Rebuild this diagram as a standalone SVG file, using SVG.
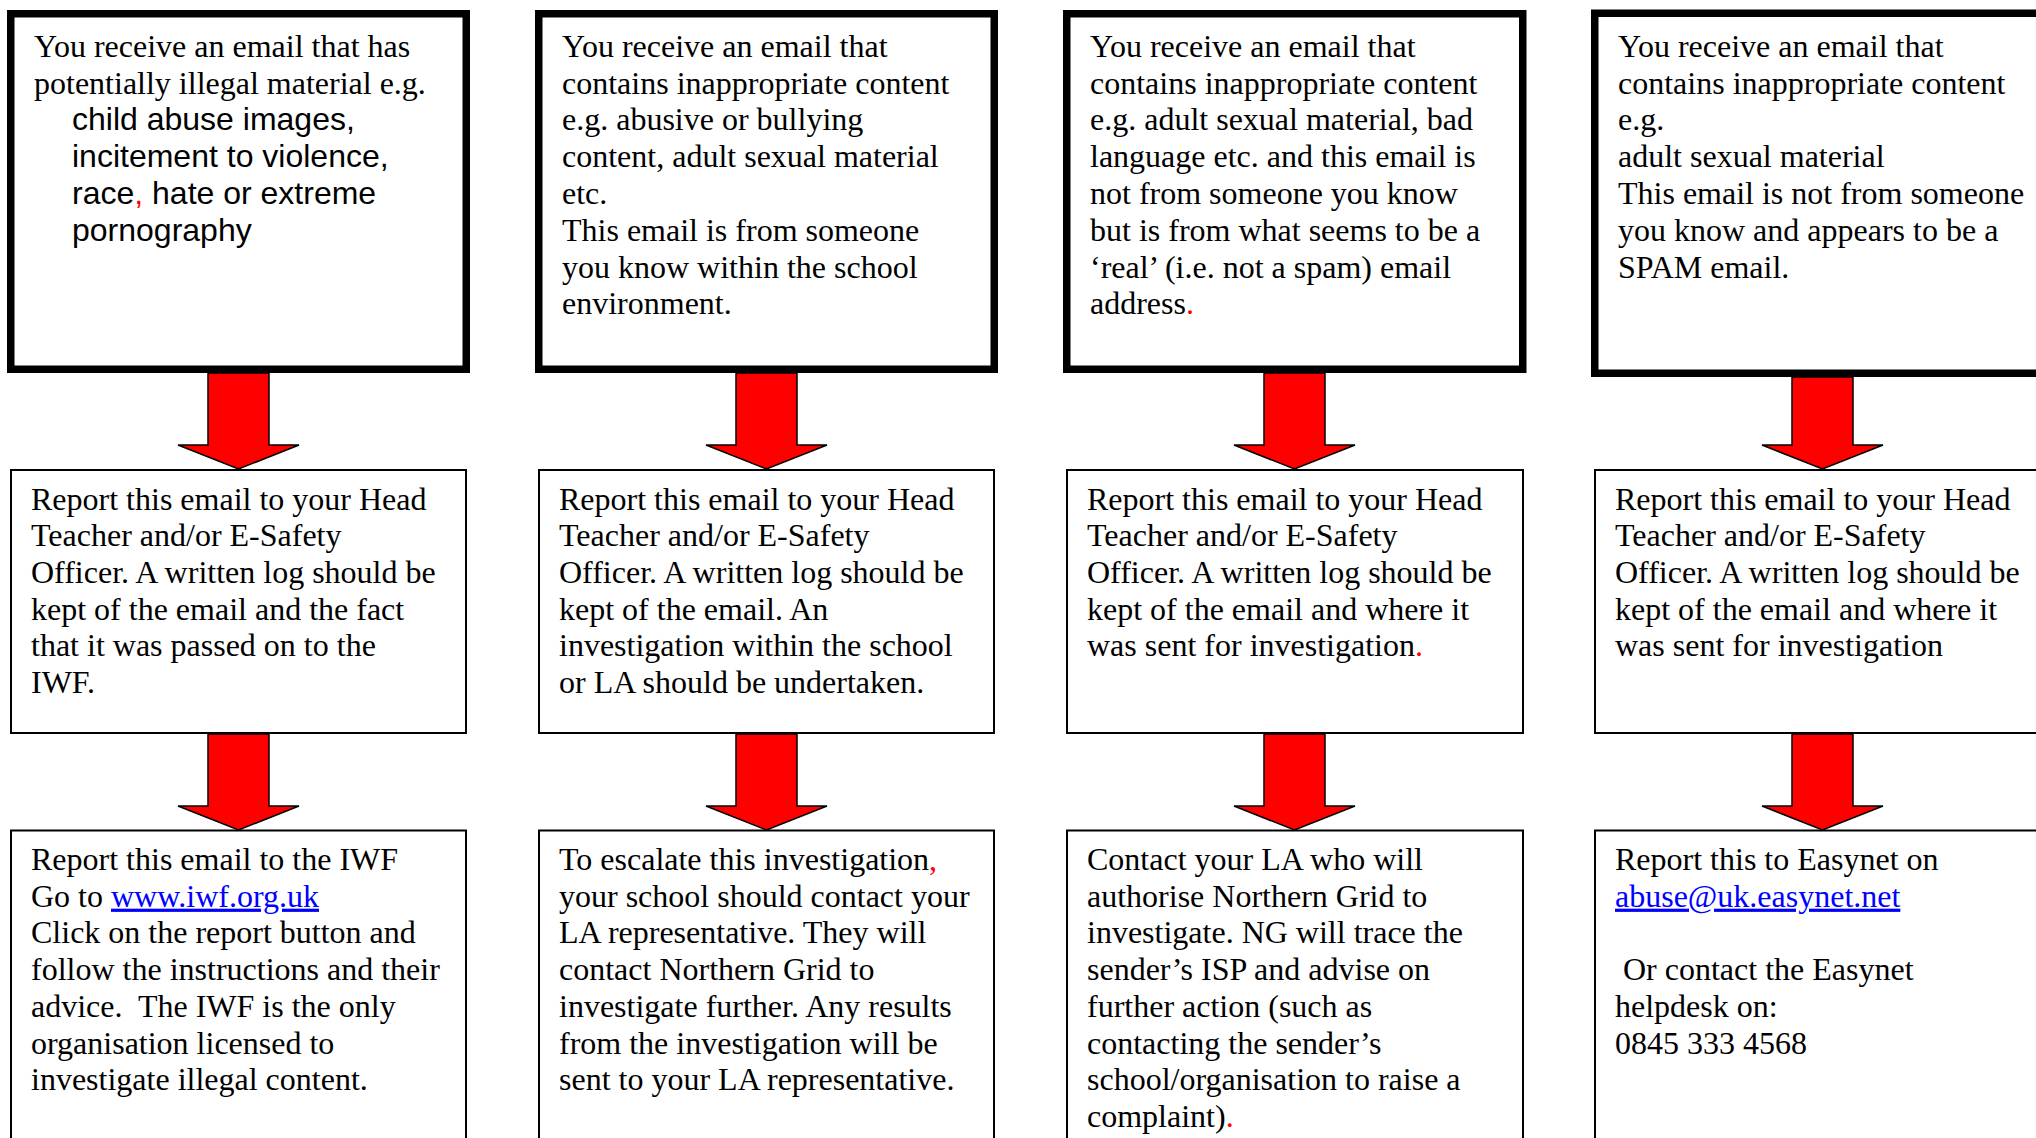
<svg xmlns="http://www.w3.org/2000/svg" width="2036" height="1138" viewBox="0 0 2036 1138">
<style>
.thick{fill:#fff;stroke:#000;stroke-width:7.5}
.thin{fill:#fff;stroke:#000;stroke-width:2}
.arrow{fill:#ff0000;stroke:#000;stroke-width:1.5;stroke-linejoin:miter}
text{font-family:"Liberation Serif","Times New Roman",serif;font-size:32px;fill:#000}
.sans{font-family:"Liberation Sans",Arial,sans-serif}
.red{fill:#ff0000}
.link{fill:#0000ff;text-decoration:underline}
</style>
<rect width="2036" height="1138" fill="#fff"/>
<g id="connectors">
<polygon class="arrow" points="208,373 269,373 269,445 299,445 238.5,469 178,445 208,445"/>
<polygon class="arrow" points="736,373 797,373 797,445 827,445 766.5,469 706,445 736,445"/>
<polygon class="arrow" points="1264,373 1325,373 1325,445 1355,445 1294.5,469 1234,445 1264,445"/>
<polygon class="arrow" points="1792,377 1853,377 1853,445 1883,445 1822.5,469 1762,445 1792,445"/>
<polygon class="arrow" points="208,734 269,734 269,806 299,806 238.5,830 178,806 208,806"/>
<polygon class="arrow" points="736,734 797,734 797,806 827,806 766.5,830 706,806 736,806"/>
<polygon class="arrow" points="1264,734 1325,734 1325,806 1355,806 1294.5,830 1234,806 1264,806"/>
<polygon class="arrow" points="1792,734 1853,734 1853,806 1883,806 1822.5,830 1762,806 1792,806"/>
</g>
<g id="top1">
<rect class="thick" x="10.75" y="13.75" width="455.5" height="355.5"/>
<text x="34" y="56.7">You receive an email that has</text>
<text x="34" y="93.5">potentially illegal material e.g.</text>
<text class="sans" x="72" y="130.3">child abuse images,</text>
<text class="sans" x="72" y="167.1">incitement to violence,</text>
<text class="sans" x="72" y="203.9">race<tspan class="red">,</tspan> hate or extreme</text>
<text class="sans" x="72" y="240.7">pornography</text>
</g>
<g id="top2">
<rect class="thick" x="538.75" y="13.75" width="455.5" height="355.5"/>
<text x="562" y="56.7">You receive an email that</text>
<text x="562" y="93.5">contains inappropriate content</text>
<text x="562" y="130.3">e.g. abusive or bullying</text>
<text x="562" y="167.1">content, adult sexual material</text>
<text x="562" y="203.9">etc.</text>
<text x="562" y="240.7">This email is from someone</text>
<text x="562" y="277.5">you know within the school</text>
<text x="562" y="314.3">environment.</text>
</g>
<g id="top3">
<rect class="thick" x="1066.75" y="13.75" width="456" height="355.5"/>
<text x="1090" y="56.7">You receive an email that</text>
<text x="1090" y="93.5">contains inappropriate content</text>
<text x="1090" y="130.3">e.g. adult sexual material, bad</text>
<text x="1090" y="167.1">language etc. and this email is</text>
<text x="1090" y="203.9">not from someone you know</text>
<text x="1090" y="240.7">but is from what seems to be a</text>
<text x="1090" y="277.5">‘real’ (i.e. not a spam) email</text>
<text x="1090" y="314.3">address<tspan class="red">.</tspan></text>
</g>
<g id="top4">
<rect class="thick" x="1594.75" y="13.25" width="500" height="360"/>
<text x="1618" y="56.7">You receive an email that</text>
<text x="1618" y="93.5">contains inappropriate content</text>
<text x="1618" y="130.3">e.g.</text>
<text x="1618" y="167.1">adult sexual material</text>
<text x="1618" y="203.9">This email is not from someone</text>
<text x="1618" y="240.7">you know and appears to be a</text>
<text x="1618" y="277.5">SPAM email.</text>
</g>
<g id="mid1">
<rect class="thin" x="11" y="470" width="455" height="263"/>
<text x="31" y="509.5">Report this email to your Head</text>
<text x="31" y="546.2">Teacher and/or E-Safety</text>
<text x="31" y="582.9">Officer. A written log should be</text>
<text x="31" y="619.6">kept of the email and the fact</text>
<text x="31" y="656.3">that it was passed on to the</text>
<text x="31" y="693">IWF.</text>
</g>
<g id="mid2">
<rect class="thin" x="539" y="470" width="455" height="263"/>
<text x="559" y="509.5">Report this email to your Head</text>
<text x="559" y="546.2">Teacher and/or E-Safety</text>
<text x="559" y="582.9">Officer. A written log should be</text>
<text x="559" y="619.6">kept of the email. An</text>
<text x="559" y="656.3">investigation within the school</text>
<text x="559" y="693">or LA should be undertaken.</text>
</g>
<g id="mid3">
<rect class="thin" x="1067" y="470" width="456" height="263"/>
<text x="1087" y="509.5">Report this email to your Head</text>
<text x="1087" y="546.2">Teacher and/or E-Safety</text>
<text x="1087" y="582.9">Officer. A written log should be</text>
<text x="1087" y="619.6">kept of the email and where it</text>
<text x="1087" y="656.3">was sent for investigation<tspan class="red">.</tspan></text>
</g>
<g id="mid4">
<rect class="thin" x="1595" y="470" width="500" height="263"/>
<text x="1615" y="509.5">Report this email to your Head</text>
<text x="1615" y="546.2">Teacher and/or E-Safety</text>
<text x="1615" y="582.9">Officer. A written log should be</text>
<text x="1615" y="619.6">kept of the email and where it</text>
<text x="1615" y="656.3">was sent for investigation</text>
</g>
<g id="bot1">
<rect class="thin" x="11" y="830.5" width="455" height="400"/>
<text x="31" y="870">Report this email to the IWF</text>
<text x="31" y="906.7">Go to <tspan class="link">www.iwf.org.uk</tspan></text>
<text x="31" y="943.4">Click on the report button and</text>
<text x="31" y="980.1">follow the instructions and their</text>
<text x="31" y="1016.8" xml:space="preserve">advice.  The IWF is the only</text>
<text x="31" y="1053.5">organisation licensed to</text>
<text x="31" y="1090.2">investigate illegal content.</text>
</g>
<g id="bot2">
<rect class="thin" x="539" y="830.5" width="455" height="400"/>
<text x="559" y="870">To escalate this investigation<tspan class="red">,</tspan></text>
<text x="559" y="906.7">your school should contact your</text>
<text x="559" y="943.4">LA representative. They will</text>
<text x="559" y="980.1">contact Northern Grid to</text>
<text x="559" y="1016.8">investigate further. Any results</text>
<text x="559" y="1053.5">from the investigation will be</text>
<text x="559" y="1090.2">sent to your LA representative.</text>
</g>
<g id="bot3">
<rect class="thin" x="1067" y="830.5" width="456" height="400"/>
<text x="1087" y="870">Contact your LA who will</text>
<text x="1087" y="906.7">authorise Northern Grid to</text>
<text x="1087" y="943.4">investigate. NG will trace the</text>
<text x="1087" y="980.1">sender’s ISP and advise on</text>
<text x="1087" y="1016.8">further action (such as</text>
<text x="1087" y="1053.5">contacting the sender’s</text>
<text x="1087" y="1090.2">school/organisation to raise a</text>
<text x="1087" y="1126.9">complaint)<tspan class="red">.</tspan></text>
</g>
<g id="bot4">
<rect class="thin" x="1595" y="830.5" width="500" height="400"/>
<text x="1615" y="870">Report this to Easynet on</text>
<text x="1615" y="906.7" class="link">abuse@uk.easynet.net</text>
<text x="1615" y="980.1" xml:space="preserve"> Or contact the Easynet</text>
<text x="1615" y="1016.8">helpdesk on:</text>
<text x="1615" y="1053.5">0845 333 4568</text>
</g>
</svg>
